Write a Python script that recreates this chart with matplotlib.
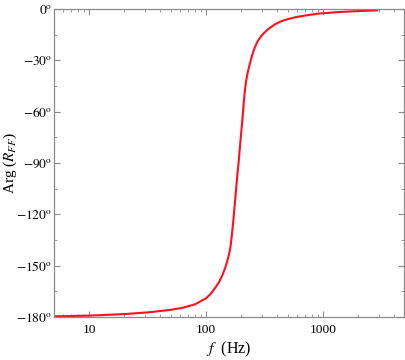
import matplotlib
matplotlib.use("Agg")
import matplotlib.pyplot as plt
from matplotlib.ticker import FixedLocator, LogLocator, NullFormatter

plt.rcParams['font.family'] = ['Liberation Serif', 'DejaVu Serif']
plt.rcParams['mathtext.fontset'] = 'stix'

# Data
freq_hz = [5, 10, 20, 33, 50, 63, 80, 100, 110, 121, 130, 138, 146, 150, 154,
           158, 161, 165, 170, 175, 180, 185, 189, 193, 198, 204, 210, 215,
           219, 224, 229, 238, 248, 260, 275, 300, 330, 350, 390, 430, 480,
           577, 750, 913, 1350, 2000, 2900]
phase_deg = [-179.6, -179.2, -178.3, -177.2, -175.8, -174.6, -172.6, -169.0,
             -166.2, -162.4, -159.0, -155.3, -150.8, -148.2, -145.4, -142.2,
             -139.2, -133.2, -124.5, -114.8, -105.2, -96.0, -90.0, -82.5,
             -74.0, -64.0, -53.5, -46.5, -42.2, -38.6, -35.5, -31.0, -26.5,
             -22.5, -18.8, -15.2, -12.4, -11.0, -8.8, -7.4, -6.2, -4.8, -3.5,
             -2.7, -1.8, -1.2, -0.8]

x_ticks = [10, 100, 1000]
x_tick_labels = ['10', '100', '1000']
y_ticks = [0, -30, -60, -90, -120, -150, -180]
y_tick_labels = [r'$0^{\mathrm{o}}$', r'$-30^{\mathrm{o}}$', r'$-60^{\mathrm{o}}$',
                 r'$-90^{\mathrm{o}}$', r'$-120^{\mathrm{o}}$', r'$-150^{\mathrm{o}}$',
                 r'$-180^{\mathrm{o}}$']

fig = plt.figure(figsize=(4.05, 3.6), dpi=100)
ax = fig.add_axes([54/405, 43/360, 350/405, 308/360])

ax.plot(freq_hz, phase_deg, color='#ff1020', linewidth=1.5,
        solid_capstyle='round', solid_joinstyle='round')

ax.set_xscale('log')
ax.set_xlim(5, 4900)
ax.set_ylim(-180, 0)

ax.set_xticks(x_ticks)
ax.set_xticklabels(x_tick_labels)
ax.xaxis.set_minor_locator(LogLocator(base=10, subs=range(2, 10), numticks=20))
ax.xaxis.set_minor_formatter(NullFormatter())
ax.set_yticks(y_ticks)
ax.set_yticklabels(y_tick_labels)
ax.yaxis.set_minor_locator(FixedLocator(list(range(-165, 0, 30))))

frame_col = '#8a8a8a'
for s in ax.spines.values():
    s.set_color(frame_col)
    s.set_linewidth(0.9)

ax.tick_params(which='both', direction='in', top=True, right=True,
               color=frame_col, labelsize=9.7, labelcolor='black')
ax.tick_params(which='major', length=4.5, width=0.8)
ax.tick_params(which='minor', length=2.5, width=0.6)
ax.tick_params(axis='x', which='major', pad=5)
ax.tick_params(axis='y', which='major', pad=1.5)

ax.set_xlabel(r'$f$  (Hz)', fontsize=11.5, labelpad=3)
ax.set_ylabel(r'Arg ($R_{FF}$)', fontsize=11)
ax.yaxis.set_label_coords(-35.5/350, 0.5)

fig.savefig('out.png', dpi=100)
